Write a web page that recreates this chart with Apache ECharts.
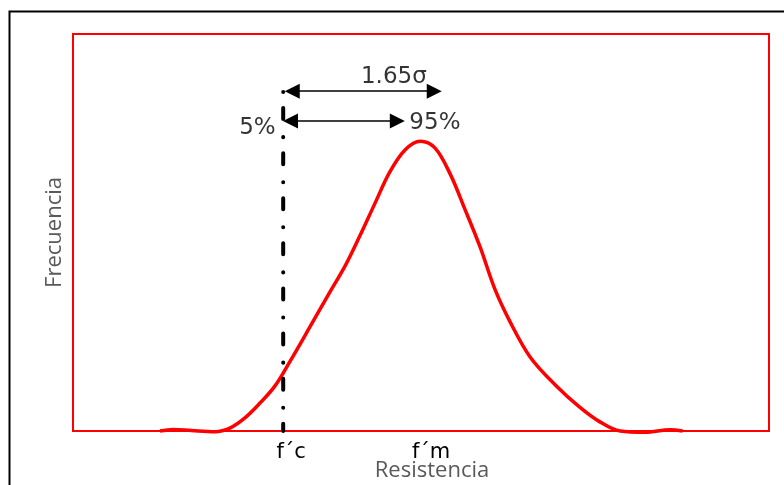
<!DOCTYPE html>
<html>
<head>
<meta charset="utf-8">
<script src="https://cdn.jsdelivr.net/npm/echarts@6/dist/echarts.min.js"></script>
<style>html,body{margin:0;padding:0;background:#fff}#c{width:784px;height:485px}</style>
</head>
<body>
<div id="c"></div>
<script>
// Curve (resistance vs frequency), x and y in arbitrary 0-100 units
const curveX = [12.5,14.4,17.0,20.4,22.6,24.7,26.9,29.0,31.2,34.1,36.9,39.1,41.2,43.4,45.5,47.7,49.9,52.0,54.2,56.3,58.5,60.6,62.8,65.7,69.3,72.8,75.7,78.6,82.2,85.8,87.6];
const curveY = [0,0.4,0.1,-0.2,0.8,3.3,7.1,11.3,17.6,26.4,35.0,41.6,49.1,57.4,65.2,70.8,73.0,71.3,64.7,55.9,46.3,35.8,27.5,18.6,11.6,6.0,2.3,0,-0.3,0.3,0];
// f'c vertical line
const fcX = 30.2;
const fcLineTop = 85.4;
// double arrows (symbol centres): [x1, x2, y]
const arrowTop = [31.5, 51.9, 85.6];
const arrowBottom = [31.25, 46.6, 78.1];
// annotation texts and positions
const noteTexts = ['1.65σ', '5%', '95%'];
const noteX = [46.1, 26.5, 52.0];
const noteY = [89.2, 76.3, 77.6];
// x tick labels
const tickValues = [30.2, 50.3];
const tickLabels = ['f´c', 'f´m'];

const chart = echarts.init(document.getElementById('c'));
chart.setOption({
  animation: false,
  backgroundColor: '#fff',
  graphic: [{
    type: 'rect', left: 7, top: 9, shape: {width: 820, height: 520},
    style: {fill: 'none', stroke: '#000', lineWidth: 2}, silent: true, z: -10
  }],
  grid: {left: 73, top: 34, right: 15, bottom: 54, outerBoundsMode: 'none', containLabel: false,
    show: true, borderColor: '#ff0000', borderWidth: 2, backgroundColor: 'transparent'},
  xAxis: {
    type: 'value', min: 0, max: 100,
    name: 'Resistencia', nameLocation: 'middle', nameGap: 29, nameMoveOverlap: false,
    nameTextStyle: {color: '#595959', fontSize: 22, fontFamily: 'Open Sans', padding: [0, 0, 0, 22]},
    axisLine: {show: false}, axisTick: {show: false}, splitLine: {show: false},
    axisLabel: {
      customValues: tickValues, margin: 11, color: '#000', fontSize: 21, fontFamily: 'DejaVu Sans',
      padding: [0, 0, 0, 16],
      formatter: function (v) {
        let best = 0;
        for (let i = 1; i < tickValues.length; i++) if (Math.abs(tickValues[i] - v) < Math.abs(tickValues[best] - v)) best = i;
        return tickLabels[best];
      }
    }
  },
  yAxis: {
    type: 'value', min: 0, max: 100,
    name: 'Frecuencia', nameLocation: 'middle', nameGap: 7, nameRotate: 90, nameMoveOverlap: false,
    nameTextStyle: {color: '#595959', fontSize: 22, fontFamily: 'Open Sans'},
    axisLine: {show: false}, axisTick: {show: false}, splitLine: {show: false}, axisLabel: {show: false}
  },
  series: [
    {
      type: 'line', smooth: 0.35, symbol: 'none', clip: false,
      data: curveX.map((x, i) => [x, curveY[i]]),
      lineStyle: {color: '#ff0000', width: 3.5}
    },
    {
      type: 'line', symbol: 'none', clip: false,
      data: [[fcX, fcLineTop], [fcX, 0]],
      lineStyle: {color: '#000', width: 4, type: [0.1, 16, 11, 18], cap: 'round'},
      markLine: {
        silent: true, symbol: ['triangle', 'triangle'], symbolSize: [15, 15],
        lineStyle: {color: '#000', width: 1.5, type: 'solid'},
        label: {show: false},
        data: [
          [{coord: [arrowTop[0], arrowTop[2]]}, {coord: [arrowTop[1], arrowTop[2]]}],
          [{coord: [arrowBottom[0], arrowBottom[2]]}, {coord: [arrowBottom[1], arrowBottom[2]]}]
        ]
      }
    },
    {
      type: 'scatter', symbolSize: 0, clip: false,
      data: noteX.map((x, i) => ({value: [x, noteY[i]], name: noteTexts[i]})),
      label: {show: true, position: 'inside', formatter: '{b}', color: '#000', textBorderWidth: 0, fontSize: 23, fontFamily: 'DejaVu Sans'}
    }
  ]
});
</script>
</body>
</html>
